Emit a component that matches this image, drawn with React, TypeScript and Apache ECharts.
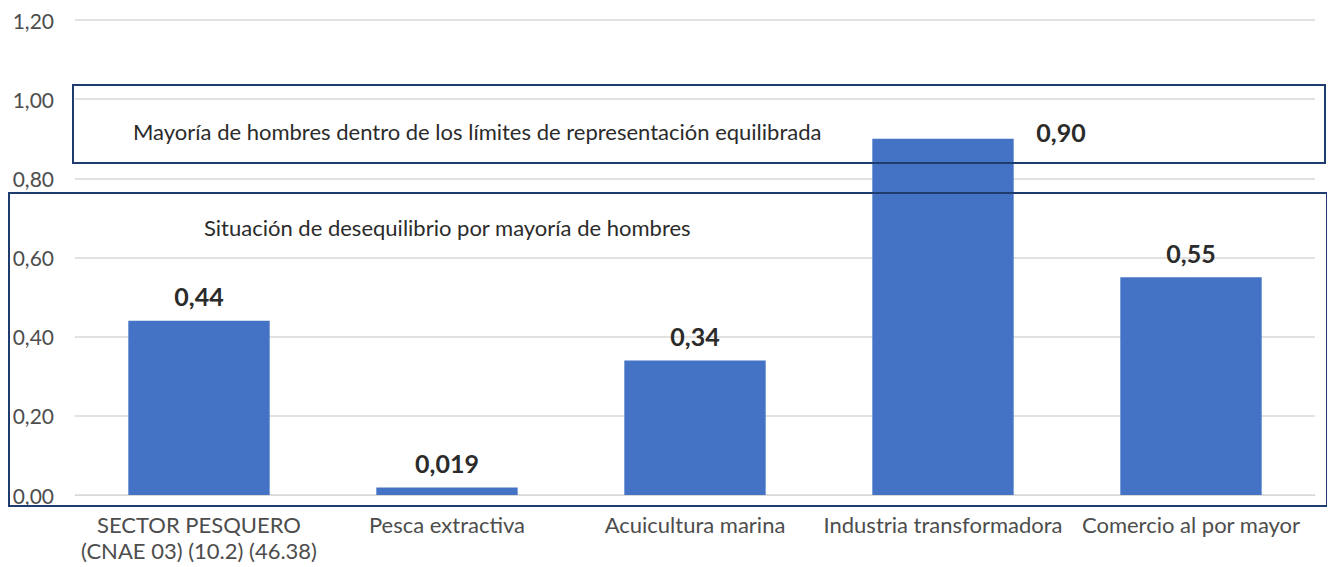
import React, { useEffect, useRef } from "react";
import * as echarts from "echarts";

const categories = [
  "SECTOR PESQUERO\n(CNAE 03) (10.2) (46.38)",
  "Pesca extractiva",
  "Acuicultura marina",
  "Industria transformadora",
  "Comercio al por mayor",
];
const values = [0.44, 0.019, 0.34, 0.9, 0.55];
const valueLabels = ["0,44", "0,019", "0,34", "0,90", "0,55"];
const boxTexts = [
  "Mayoría de hombres dentro de los límites de representación equilibrada",
  "Situación de desequilibrio por mayoría de hombres",
];

const FONT = "Lato";

export default function App() {
  const ref = useRef<HTMLDivElement>(null);
  useEffect(() => {
    if (!ref.current) return;
    const chart = echarts.init(ref.current, null, { renderer: "svg" });
    chart.setOption({
      animation: false,
      textStyle: { fontFamily: FONT },
      grid: { left: 75, right: 20, top: 20, bottom: 72 },
      xAxis: {
        type: "category",
        data: categories,
        axisLine: { lineStyle: { color: "#d9d9d9" } },
        axisTick: { show: false },
        axisLabel: {
          interval: 0,
          hideOverlap: false,
          color: "#4d4d4d",
          fontSize: 22,
          lineHeight: 26,
          margin: 16,
          fontFamily: FONT,
        },
      },
      yAxis: {
        type: "value",
        min: 0,
        max: 1.2,
        interval: 0.2,
        axisLabel: {
          color: "#4d4d4d",
          fontSize: 21,
          margin: 21,
          fontFamily: FONT,
          formatter: (v: number) => v.toFixed(2).replace(".", ","),
        },
        splitLine: { lineStyle: { color: "#d9d9d9", width: 1.5 } },
      },
      series: [
        {
          type: "bar",
          barWidth: "57%",
          itemStyle: { color: "#4472c4" },
          data: values.map((v, i) => ({
            value: v,
            label:
              i === 3
                ? { position: "top", offset: [118, 18] }
                : undefined,
          })),
          label: {
            show: true,
            position: "top",
            distance: 12,
            fontSize: 25,
            fontWeight: "bold",
            color: "#2b2b2b",
            fontFamily: FONT,
            formatter: (p: any) => valueLabels[p.dataIndex],
          },
        },
      ],
      graphic: [
        {
          type: "rect",
          z: 100,
          shape: { x: 73, y: 85, width: 1252, height: 78 },
          style: { fill: "none", stroke: "#1f3c6e", lineWidth: 2 },
        },
        {
          type: "rect",
          z: 100,
          shape: { x: 9, y: 193, width: 1318, height: 313 },
          style: { fill: "none", stroke: "#1f3c6e", lineWidth: 2 },
        },
        {
          type: "text",
          z: 101,
          x: 133,
          y: 131,
          style: {
            text: boxTexts[0],
            fontSize: 22,
            fill: "#2b2b2b",
            fontFamily: FONT,
            verticalAlign: "middle",
          },
        },
        {
          type: "text",
          z: 101,
          x: 204,
          y: 227,
          style: {
            text: boxTexts[1],
            fontSize: 22,
            fill: "#2b2b2b",
            fontFamily: FONT,
            verticalAlign: "middle",
          },
        },
      ],
    });
    return () => chart.dispose();
  }, []);
  return (
    <div
      ref={ref}
      style={{ width: 1335, height: 567, marginLeft: -8, marginTop: -8 }}
    />
  );
}
